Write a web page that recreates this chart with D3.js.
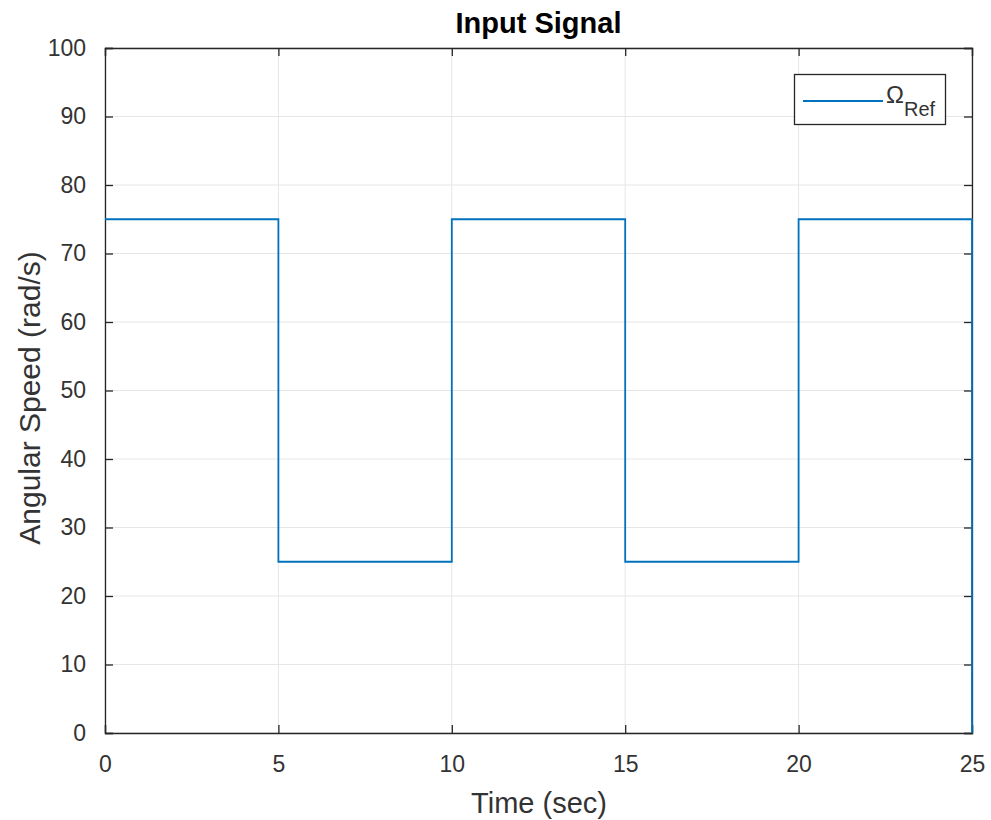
<!DOCTYPE html>
<html>
<head>
<title>Input Signal</title>
<script src="https://d3js.org/d3.v7.min.js"></script>
</head>
<body style="margin:0;background:#fff">
<script>

// reference step signal (time in sec, angular speed in rad/s)
var timePoints = [0, 5, 5, 10, 10, 15, 15, 20, 20, 25, 25];
var speedValues = [75, 75, 25, 25, 75, 75, 25, 25, 75, 75, 0];
var xTicks = [0, 5, 10, 15, 20, 25];
var yTicks = [0, 10, 20, 30, 40, 50, 60, 70, 80, 90, 100];

var W = 991, H = 820;
var pLeft = 105, pRight = 972, pTop = 48, pBottom = 733;
var font = "Helvetica, Arial, 'Liberation Sans', sans-serif";

var svg = d3.select("body").append("svg").attr("width", W).attr("height", H)
	.style("font-family", font);

var x = d3.scaleLinear().domain([0, 25]).range([pLeft, pRight]);
var y = d3.scaleLinear().domain([0, 100]).range([pBottom, pTop]);

// grid
svg.append("g").selectAll("line").data(xTicks).enter().append("line")
	.attr("x1", d => x(d)).attr("x2", d => x(d)).attr("y1", pTop).attr("y2", pBottom)
	.style("stroke", "#e6e6e6").style("stroke-width", 1);
svg.append("g").selectAll("line").data(yTicks).enter().append("line")
	.attr("y1", d => y(d)).attr("y2", d => y(d)).attr("x1", pLeft).attr("x2", pRight)
	.style("stroke", "#e6e6e6").style("stroke-width", 1);

// axes (ticks inside, on all four sides)
var tk = 8;
var axB = svg.append("g").attr("transform", "translate(0," + pBottom + ")")
	.call(d3.axisBottom(x).tickValues(xTicks).tickSize(-tk).tickPadding(tk + 15));
var axT = svg.append("g").attr("transform", "translate(0," + pTop + ")")
	.call(d3.axisTop(x).tickValues(xTicks).tickSize(-tk).tickFormat(""));
var axL = svg.append("g").attr("transform", "translate(" + pLeft + ",0)")
	.call(d3.axisLeft(y).tickValues(yTicks).tickSize(-tk).tickPadding(tk + 11));
var axR = svg.append("g").attr("transform", "translate(" + pRight + ",0)")
	.call(d3.axisRight(y).tickValues(yTicks).tickSize(-tk).tickFormat(""));

[axB, axT, axL, axR].forEach(function(a){
	a.select(".domain").style("stroke", "#262626").style("stroke-width", 1.3);
	a.selectAll(".tick line").style("stroke", "#262626").style("stroke-width", 1.3);
	a.selectAll("text").style("font-size", "23px").style("fill", "#333")
		.style("font-family", font);
});

// signal
var line = d3.line().x((d, i) => x(timePoints[i])).y(d => y(d));
svg.append("path").datum(speedValues)
	.attr("d", line)
	.style("fill", "none").style("stroke", "#0072BD").style("stroke-width", 1.8);

// title and labels
svg.append("text").attr("x", (pLeft + pRight) / 2).attr("y", 33)
	.attr("text-anchor", "middle").style("font-size", "29px").style("font-weight", "bold")
	.style("fill", "#000").text("Input Signal");
svg.append("text").attr("x", 539).attr("y", 813)
	.attr("text-anchor", "middle").style("font-size", "29px").style("fill", "#333")
	.text("Time (sec)");
svg.append("text").attr("transform", "translate(40,398) rotate(-90)")
	.attr("text-anchor", "middle").style("font-size", "30px").style("fill", "#333")
	.text("Angular Speed (rad/s)");

// legend
var lg = svg.append("g");
lg.append("rect").attr("x", 794.5).attr("y", 74.5).attr("width", 151).attr("height", 50)
	.style("fill", "#fff").style("stroke", "#262626").style("stroke-width", 1.3);
lg.append("line").attr("x1", 803).attr("x2", 883).attr("y1", 101).attr("y2", 101)
	.style("stroke", "#0072BD").style("stroke-width", 1.8);
var lt = lg.append("text").attr("x", 886).attr("y", 103).style("font-size", "24px").style("fill", "#333");
lt.append("tspan").text("\u03A9");
lt.append("tspan").attr("dy", 13).style("font-size", "20px").text("Ref");

</script>
</body>
</html>
